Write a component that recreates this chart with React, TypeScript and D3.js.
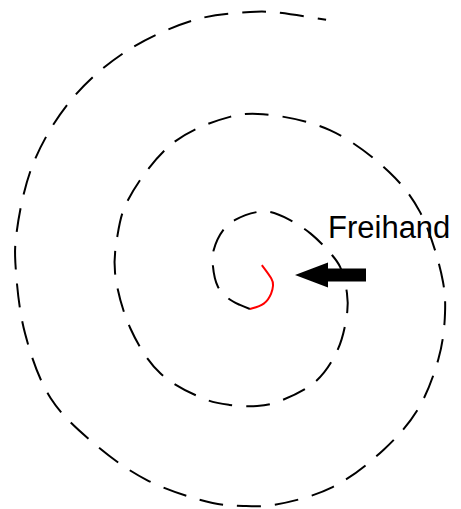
import React, { useEffect, useRef } from "react";
import * as d3 from "d3";

// spiral samples: angle (deg, clockwise from 12 o'clock) and radius
const spiralAngle = [
  19, 74.5, 90, 115, 153, 192,
  217, 244, 267, 295, 310, 331, 343, 361.6, 371.6, 388, 407, 428.7, 438, 455, 466,
  488, 508, 529, 539, 552, 563, 587, 611, 635, 649, 663, 690, 711.5, 722.7, 745.8,
  770, 786, 809, 820, 832, 847.5, 862, 879, 895, 903, 911, 929, 945.7, 961, 978,
  993, 1001, 1018.6, 1035.5, 1051.6, 1067.7, 1079, 1083.6, 1095
];
const spiralRadius = [
  21, 18.7, 18.3, 18.8, 22.4, 24.5,
  25, 30, 37, 46.5, 54, 64, 68, 73, 74.5, 73.8, 75.7, 82.6, 87, 92.3, 96,
  105, 114, 119, 121, 122.6, 124.6, 129.5, 132, 140.5, 145.8, 152.6, 164, 170, 171, 172,
  175.4, 180.4, 188, 192.7, 197.8, 205, 209, 216.5, 220.7, 221.3, 222, 223, 226, 233.6, 235,
  239.3, 243.6, 252.8, 261, 267, 272, 273, 273.5, 274.6
];
// the first samples are the freehand (red) part
const freehandCount = 6;
const label = "Freihand";

function App() {
  const svgRef = useRef<SVGSVGElement>(null);

  useEffect(() => {
    const width = 461;
    const height = 509;
    const cx = 255;
    const cy = 285;

    const svg = d3.select(svgRef.current);
    svg.selectAll("*").remove();

    const points = spiralAngle.map((a, i) => ({ a, r: spiralRadius[i] }));

    const angleScale = d3.scaleLinear().domain([0, 360]).range([0, 2 * Math.PI]);
    const rScale = d3.scaleLinear().domain([0, 100]).range([0, 100]);

    const radial = d3
      .lineRadial<{ a: number; r: number }>()
      .angle((d) => angleScale(d.a))
      .radius((d) => rScale(d.r))
      .curve(d3.curveCatmullRom.alpha(0.5));

    const g = svg.append("g").attr("transform", `translate(${cx},${cy})`);

    // dashed spiral
    g.append("path")
      .attr("d", radial(points.slice(freehandCount - 1)))
      .attr("fill", "none")
      .attr("stroke", "#000")
      .attr("stroke-width", 2)
      .attr("stroke-dasharray", "24,14");

    // freehand part, smoothed a bit more
    g.append("path")
      .attr("d", radial.curve(d3.curveBasis)(points.slice(0, freehandCount)))
      .attr("fill", "none")
      .attr("stroke", "#ff0000")
      .attr("stroke-width", 2);

    // arrow pointing at the freehand part
    const tipX = 295;
    const headX = 328;
    const endX = 366;
    const ay = 275;
    const headH = 12.5;
    const shaftH = 6.5;
    const arrowPts: [number, number][] = [
      [tipX, ay],
      [headX, ay - headH],
      [headX, ay - shaftH],
      [endX, ay - shaftH],
      [endX, ay + shaftH],
      [headX, ay + shaftH],
      [headX, ay + headH],
    ];
    svg
      .append("path")
      .attr("d", d3.line()(arrowPts) + "Z")
      .attr("fill", "#000");

    svg
      .append("text")
      .attr("x", 328)
      .attr("y", 238)
      .attr("font-family", "'Liberation Sans', Arial, sans-serif")
      .attr("font-size", 31)
      .attr("fill", "#000")
      .text(label);

    svg.attr("width", width).attr("height", height);
  }, []);

  return (
    <svg
      ref={svgRef}
      width={461}
      height={509}
      style={{ position: "absolute", left: 0, top: 0, background: "#fff" }}
    />
  );
}

export default App;
